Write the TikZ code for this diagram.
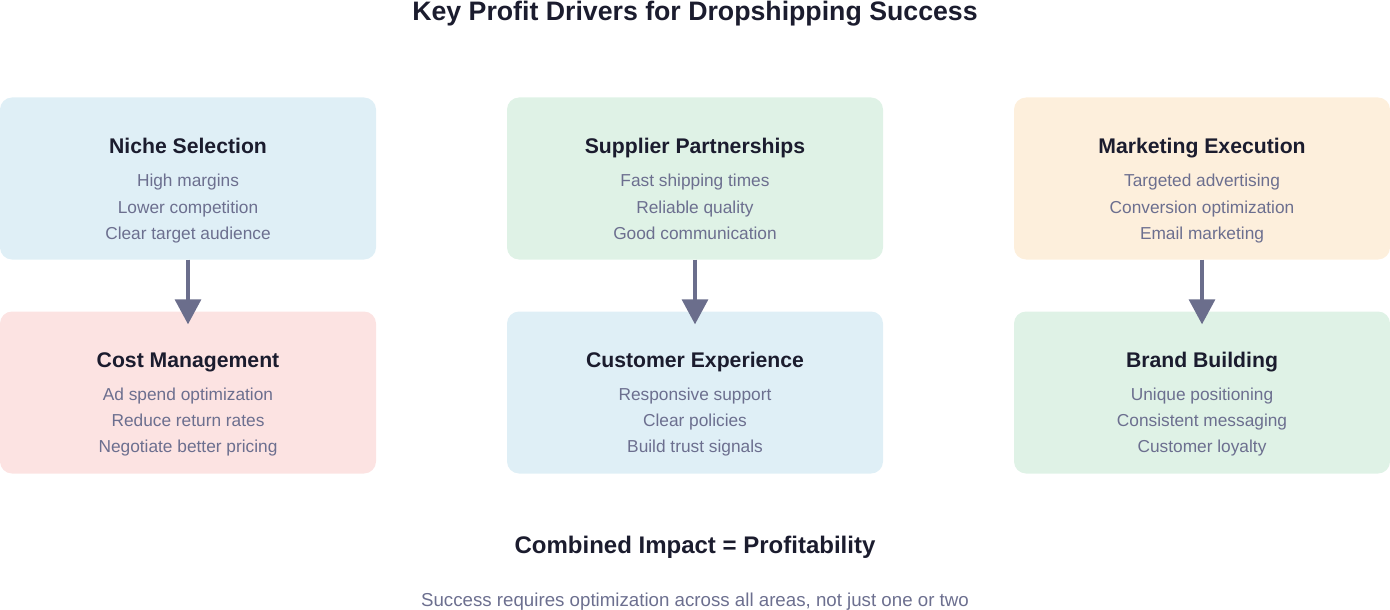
\documentclass[tikz,border=0pt]{standalone}
\usepackage{fontspec}
\setmainfont{Liberation Sans}
\usetikzlibrary{arrows.meta}
\definecolor{headc}{HTML}{1B1C2E}
\definecolor{itemc}{HTML}{6C6F8F}
\definecolor{arrc}{HTML}{6B6E8C}
\definecolor{cblue}{HTML}{DFEFF6}
\definecolor{cpink}{HTML}{FCE3E2}
\definecolor{cgreen}{HTML}{DFF2E6}
\definecolor{corange}{HTML}{FDEFDC}
\newcommand\mkcard[9]{%
  \node[card, fill=#4] (#1) at (#2, #3+80.5) {};
  \node[headtxt] (#1-h) at (#2, #9+56) {#5};
  \node[itemtxt] (#1-a) at (#2, #9+89) {#6};
  \node[itemtxt] (#1-b) at (#2, #9+115.5) {#7};
  \node[itemtxt] (#1-c) at (#2, #9+141.5) {#8};
}
\begin{document}
\begin{tikzpicture}[x=1bp, y=-1bp,
  card/.style={rectangle, rounded corners=12bp, minimum width=376bp, minimum height=162bp, inner sep=0pt, draw=none},
  headtxt/.style={anchor=base, inner sep=0pt, text=headc, font=\fontsize{21.2bp}{24bp}\selectfont\bfseries},
  itemtxt/.style={anchor=base, inner sep=0pt, text=itemc, font=\fontsize{17.3bp}{20bp}\selectfont},
  notetxt/.style={anchor=base, inner sep=0pt, text=itemc, font=\fontsize{18.7bp}{22bp}\selectfont},
  titletxt/.style={anchor=base, inner sep=0pt, text=headc, font=\fontsize{26.7bp}{30bp}\selectfont\bfseries},
  sumtxt/.style={anchor=base, inner sep=0pt, text=headc, font=\fontsize{24bp}{28bp}\selectfont\bfseries},
  arr/.style={draw=arrc, line width=3.3bp, -{Triangle[width=26bp,length=25bp]}, shorten >=-13bp}
]
\useasboundingbox (0,0) rectangle (1390,610);
\node[titletxt] (title) at (695,21) {Key Profit Drivers for Dropshipping Success};
\mkcard{niche}{188}{98}{cblue}{Niche Selection}{High margins}{Lower competition}{Clear target audience}{98}
\mkcard{supplier}{695}{98}{cgreen}{Supplier Partnerships}{Fast shipping times}{Reliable quality}{Good communication}{98}
\mkcard{marketing}{1202}{98}{corange}{Marketing Execution}{Targeted advertising}{Conversion optimization}{Email marketing}{98}
\mkcard{cost}{188}{312}{cpink}{Cost Management}{Ad spend optimization}{Reduce return rates}{Negotiate better pricing}{311}
\mkcard{custexp}{695}{312}{cblue}{Customer Experience}{Responsive support}{Clear policies}{Build trust signals}{311}
\mkcard{brand}{1202}{312}{cgreen}{Brand Building}{Unique positioning}{Consistent messaging}{Customer loyalty}{311}
\draw[arr] (niche) -- (cost);
\draw[arr] (supplier) -- (custexp);
\draw[arr] (marketing) -- (brand);
\node[sumtxt] (combined) at (695,553.3) {Combined Impact = Profitability};
\node[notetxt] (note) at (695,606.5) {Success requires optimization across all areas, not just one or two};
\end{tikzpicture}
\end{document}
